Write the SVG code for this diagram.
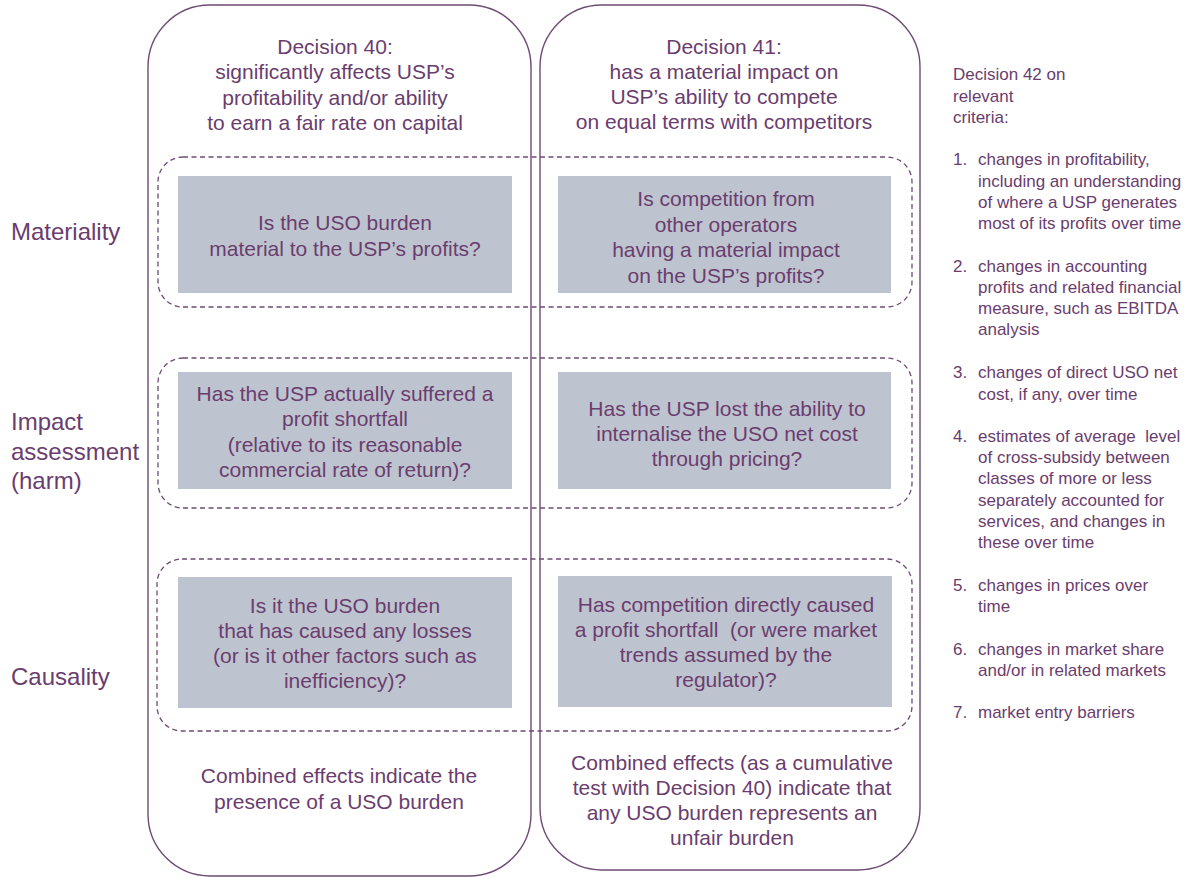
<svg xmlns="http://www.w3.org/2000/svg" width="1201" height="877" viewBox="0 0 1201 877">
<style>
text{font-family:"Liberation Sans",Arial,sans-serif;fill:#6A3D6E}
.m{font-size:21px;text-anchor:middle}
.l{font-size:24px}
.s{font-size:17px}
.col{fill:none;stroke:#6E4A73;stroke-width:1.4}
.dash{fill:none;stroke:#6E4A73;stroke-width:1.3;stroke-dasharray:5 3.5}
.box{fill:#BEC4CF}
</style>
<rect width="1201" height="877" fill="#fff"/>
<g id="col40">
<rect class="col" x="148" y="5" width="383" height="871" rx="62" ry="62"/>
<text class="m"><tspan x="335" y="54">Decision 40:</tspan><tspan x="335" y="79">significantly affects USP’s</tspan><tspan x="335" y="105">profitability and/or ability</tspan><tspan x="335" y="130">to earn a fair rate on capital</tspan></text>
</g>
<g id="col41">
<rect class="col" x="540" y="5" width="380" height="865" rx="62" ry="62"/>
<text class="m"><tspan x="724" y="54">Decision 41:</tspan><tspan x="724" y="79">has a material impact on</tspan><tspan x="724" y="104">USP’s ability to compete</tspan><tspan x="724" y="129">on equal terms with competitors</tspan></text>
</g>
<g id="row-materiality">
<rect class="dash" x="158" y="157" width="754" height="150" rx="25" ry="25"/>
<text class="l" x="11" y="240">Materiality</text>
</g>
<g id="row-impact">
<rect class="dash" x="158" y="358" width="754" height="150" rx="25" ry="25"/>
<text class="l"><tspan x="11" y="430">Impact</tspan><tspan x="11" y="460">assessment</tspan><tspan x="11" y="489">(harm)</tspan></text>
</g>
<g id="row-causality">
<rect class="dash" x="157" y="559" width="755" height="172" rx="25" ry="25"/>
<text class="l" x="11" y="685">Causality</text>
</g>
<g id="m40">
<rect class="box" x="178" y="176" width="334" height="117"/>
<text class="m"><tspan x="345" y="230">Is the USO burden</tspan><tspan x="345" y="256">material to the USP’s profits?</tspan></text>
</g>
<g id="m41">
<rect class="box" x="558" y="176" width="333" height="117"/>
<text class="m"><tspan x="726" y="206">Is competition from</tspan><tspan x="726" y="232">other operators</tspan><tspan x="726" y="257">having a material impact</tspan><tspan x="726" y="283">on the USP’s profits?</tspan></text>
</g>
<g id="i40">
<rect class="box" x="178" y="372" width="334" height="117"/>
<text class="m"><tspan x="345" y="401">Has the USP actually suffered a</tspan><tspan x="345" y="426">profit shortfall</tspan><tspan x="345" y="452">(relative to its reasonable</tspan><tspan x="345" y="477">commercial rate of return)?</tspan></text>
</g>
<g id="i41">
<rect class="box" x="558" y="372" width="333" height="117"/>
<text class="m"><tspan x="727" y="416">Has the USP lost the ability to</tspan><tspan x="727" y="441">internalise the USO net cost</tspan><tspan x="727" y="466">through pricing?</tspan></text>
</g>
<g id="c40">
<rect class="box" x="178" y="577" width="334" height="131"/>
<text class="m"><tspan x="345" y="613">Is it the USO burden</tspan><tspan x="345" y="638">that has caused any losses</tspan><tspan x="345" y="663">(or is it other factors such as</tspan><tspan x="345" y="688">inefficiency)?</tspan></text>
</g>
<g id="c41">
<rect class="box" x="558" y="576" width="334" height="131"/>
<text class="m"><tspan x="726" y="612">Has competition directly caused</tspan><tspan x="726" y="637">a profit shortfall &#160;(or were market</tspan><tspan x="726" y="662">trends assumed by the</tspan><tspan x="726" y="687">regulator)?</tspan></text>
</g>
<g id="r40">
<text class="m"><tspan x="339" y="783">Combined effects indicate the</tspan><tspan x="339" y="809">presence of a USO burden</tspan></text>
</g>
<g id="r41">
<text class="m"><tspan x="732" y="770">Combined effects (as a cumulative</tspan><tspan x="732" y="795">test with Decision 40) indicate that</tspan><tspan x="732" y="820">any USO burden represents an</tspan><tspan x="732" y="845">unfair burden</tspan></text>
</g>
<g id="criteria">
<text class="s"><tspan x="953" y="80">Decision 42 on</tspan><tspan x="953" y="102">relevant</tspan><tspan x="953" y="123">criteria:</tspan></text>
<text class="s"><tspan x="953" y="165">1.</tspan><tspan x="978" y="165">changes in profitability,</tspan><tspan x="978" y="187">including an understanding</tspan><tspan x="978" y="208">of where a USP generates</tspan><tspan x="978" y="229">most of its profits over time</tspan></text>
<text class="s"><tspan x="953" y="272">2.</tspan><tspan x="978" y="272">changes in accounting</tspan><tspan x="978" y="293">profits and related financial</tspan><tspan x="978" y="314">measure, such as EBITDA</tspan><tspan x="978" y="335">analysis</tspan></text>
<text class="s"><tspan x="953" y="378">3.</tspan><tspan x="978" y="378">changes of direct USO net</tspan><tspan x="978" y="400">cost, if any, over time</tspan></text>
<text class="s"><tspan x="953" y="442">4.</tspan><tspan x="978" y="442">estimates of average &#160;level</tspan><tspan x="978" y="463">of cross-subsidy between</tspan><tspan x="978" y="484">classes of more or less</tspan><tspan x="978" y="506">separately accounted for</tspan><tspan x="978" y="527">services, and changes in</tspan><tspan x="978" y="548">these over time</tspan></text>
<text class="s"><tspan x="953" y="591">5.</tspan><tspan x="978" y="591">changes in prices over</tspan><tspan x="978" y="612">time</tspan></text>
<text class="s"><tspan x="953" y="655">6.</tspan><tspan x="978" y="655">changes in market share</tspan><tspan x="978" y="676">and/or in related markets</tspan></text>
<text class="s"><tspan x="953" y="718">7.</tspan><tspan x="978" y="718">market entry barriers</tspan></text>
</g>
</svg>
